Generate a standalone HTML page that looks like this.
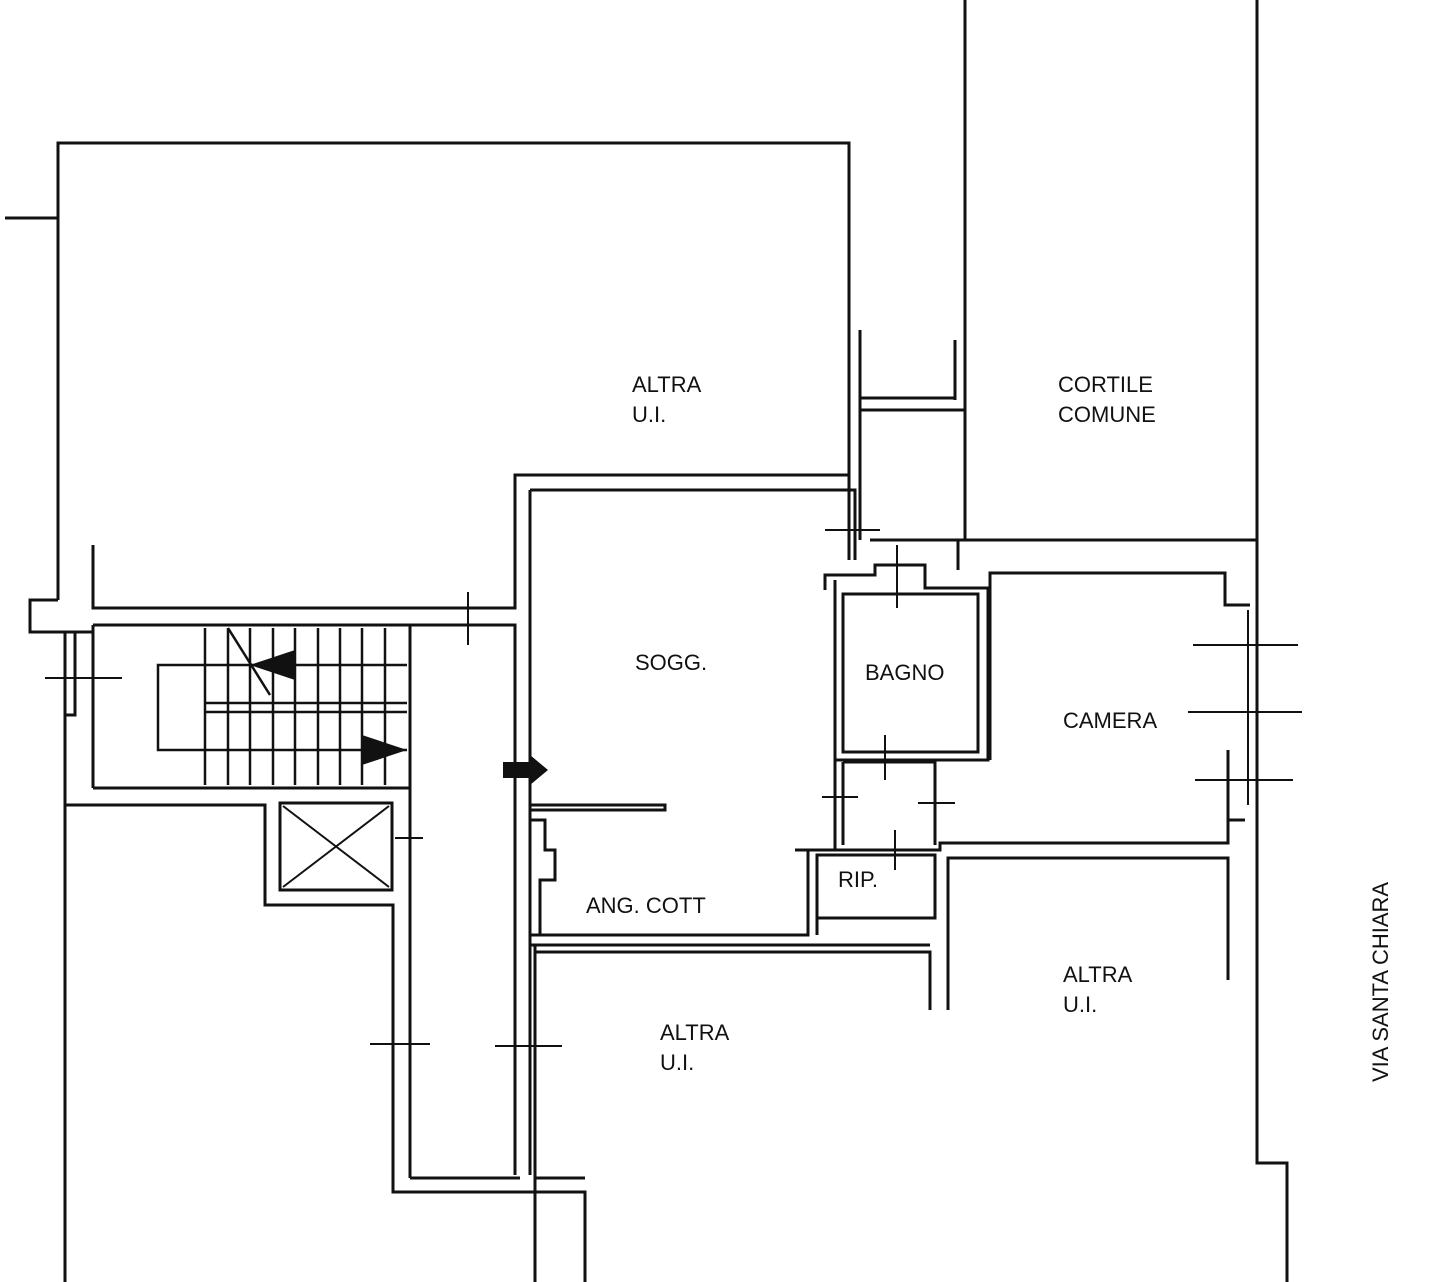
<!DOCTYPE html>
<html><head><style>
html,body{margin:0;padding:0;background:#fff;}
svg{display:block}
text{font-family:"Liberation Sans",Arial,sans-serif;font-size:22px;fill:#111;}
</style></head><body>
<svg width="1452" height="1282" viewBox="0 0 1452 1282" xmlns="http://www.w3.org/2000/svg">
<g fill="none" stroke="#111" stroke-width="3" stroke-linejoin="miter">
<polyline points="58,600 58,143 849,143 849,475 515,475 515,608 93,608 93,545"/>
<line x1="5" y1="218" x2="58" y2="218"/>
<line x1="965" y1="0" x2="965" y2="540"/>
<polyline points="1257,0 1257,1163 1287,1163 1287,1282"/>
<polyline points="958,570 958,540 1257,540"/>
<line x1="860" y1="330" x2="860" y2="540"/>
<line x1="955" y1="340" x2="955" y2="400"/>
<polyline points="860,410 965,410"/>
<polyline points="860,398 955,398"/>
<line x1="870" y1="540" x2="958" y2="540"/>
<line x1="849" y1="475" x2="849" y2="560"/>
<polyline points="58,600 30,600 30,632 93,632"/>
<polyline points="65,632 65,715 75,715 75,632"/>
<polyline points="93,625 515,625 515,1175"/>
<line x1="93" y1="625" x2="93" y2="788"/>
<line x1="93" y1="788" x2="410" y2="788"/>
<line x1="410" y1="625" x2="410" y2="1178"/>
<line x1="530" y1="490" x2="530" y2="1175"/>
<polyline points="410,1178 520,1178"/>
<polyline points="65,715 65,1282"/>
<polyline points="65,805 265,805 265,905 393,905 393,1192 585,1192 585,1282"/>
<polyline points="535,1178 585,1178"/>
<line x1="535" y1="945" x2="535" y2="1178"/>
<rect x="280" y="803" width="112" height="87"/>
<line x1="283" y1="806" x2="389" y2="887" stroke-width="2"/>
<line x1="389" y1="806" x2="283" y2="887" stroke-width="2"/>
<g stroke-width="2.5">
<line x1="205" y1="628" x2="205" y2="785"/><line x1="228" y1="628" x2="228" y2="785"/>
<line x1="250" y1="628" x2="250" y2="785"/><line x1="273" y1="628" x2="273" y2="785"/>
<line x1="295" y1="628" x2="295" y2="785"/><line x1="318" y1="628" x2="318" y2="785"/>
<line x1="340" y1="628" x2="340" y2="785"/><line x1="362" y1="628" x2="362" y2="785"/>
<line x1="385" y1="628" x2="385" y2="785"/>
<line x1="205" y1="703" x2="407" y2="703"/><line x1="205" y1="712" x2="407" y2="712"/>
<polyline points="407,665 158,665 158,750 407,750"/>
<line x1="228" y1="628" x2="270" y2="695"/>
</g>
<polyline points="530,490 855,490 855,560"/>
<polyline points="530,820 530,935 808,935 808,850 795,850 835,850 835,580"/>
<polyline points="530,810 665,810 665,805 530,805"/>
<polyline points="530,820 545,820 545,850 555,850 555,880 540,880 540,935"/>
<polyline points="825,590 825,575 875,575 875,565 925,565 925,588 988,588 988,760 835,760 835,845"/>
<rect x="843" y="594" width="135" height="158"/>
<polyline points="843,762 935,762 935,845"/>
<line x1="843" y1="762" x2="843" y2="845"/>
<polyline points="795,850 940,850 940,843 1228,843 1228,820 1245,820"/>
<rect x="817" y="855" width="118" height="63"/>
<polyline points="990,760 990,573 1225,573 1225,605 1250,605"/>
<line x1="1228" y1="750" x2="1228" y2="820"/>
<line x1="1248" y1="610" x2="1248" y2="805" stroke-width="2"/>
<polyline points="948,1010 948,858 1228,858 1228,980"/>
<polyline points="535,1282 535,952 930,952 930,1010"/>
<line x1="530" y1="945" x2="930" y2="945"/>
<line x1="817" y1="918" x2="817" y2="935"/>
<g stroke-width="2">
<line x1="45" y1="678" x2="122" y2="678"/>
<line x1="468" y1="592" x2="468" y2="645"/>
<line x1="395" y1="838" x2="423" y2="838"/>
<line x1="370" y1="1044" x2="430" y2="1044"/>
<line x1="495" y1="1046" x2="562" y2="1046"/>
<line x1="825" y1="530" x2="880" y2="530"/>
<line x1="897" y1="545" x2="897" y2="608"/>
<line x1="885" y1="735" x2="885" y2="780"/>
<line x1="822" y1="797" x2="858" y2="797"/>
<line x1="918" y1="803" x2="955" y2="803"/>
<line x1="895" y1="830" x2="895" y2="870"/>
<line x1="1193" y1="645" x2="1298" y2="645"/>
<line x1="1188" y1="712" x2="1302" y2="712"/>
<line x1="1195" y1="780" x2="1293" y2="780"/>
</g>
</g>
<polygon points="250,665 295,650 295,680" fill="#111"/>
<polygon points="407,750 362,735 362,765" fill="#111"/>
<polygon points="503,762 530,762 530,755 548,770 530,785 530,778 503,778" fill="#111"/>
<text x="632" y="392">ALTRA</text><text x="632" y="422">U.I.</text>
<text x="1058" y="392">CORTILE</text><text x="1058" y="422">COMUNE</text>
<text x="635" y="670">SOGG.</text>
<text x="865" y="680">BAGNO</text>
<text x="1063" y="728">CAMERA</text>
<text x="838" y="887">RIP.</text>
<text x="586" y="913">ANG. COTT</text>
<text x="660" y="1040">ALTRA</text><text x="660" y="1070">U.I.</text>
<text x="1063" y="982">ALTRA</text><text x="1063" y="1012">U.I.</text>
<text x="0" y="0" transform="translate(1388,1082) rotate(-90)" font-size="24">VIA SANTA CHIARA</text>
</svg>
</body></html>
